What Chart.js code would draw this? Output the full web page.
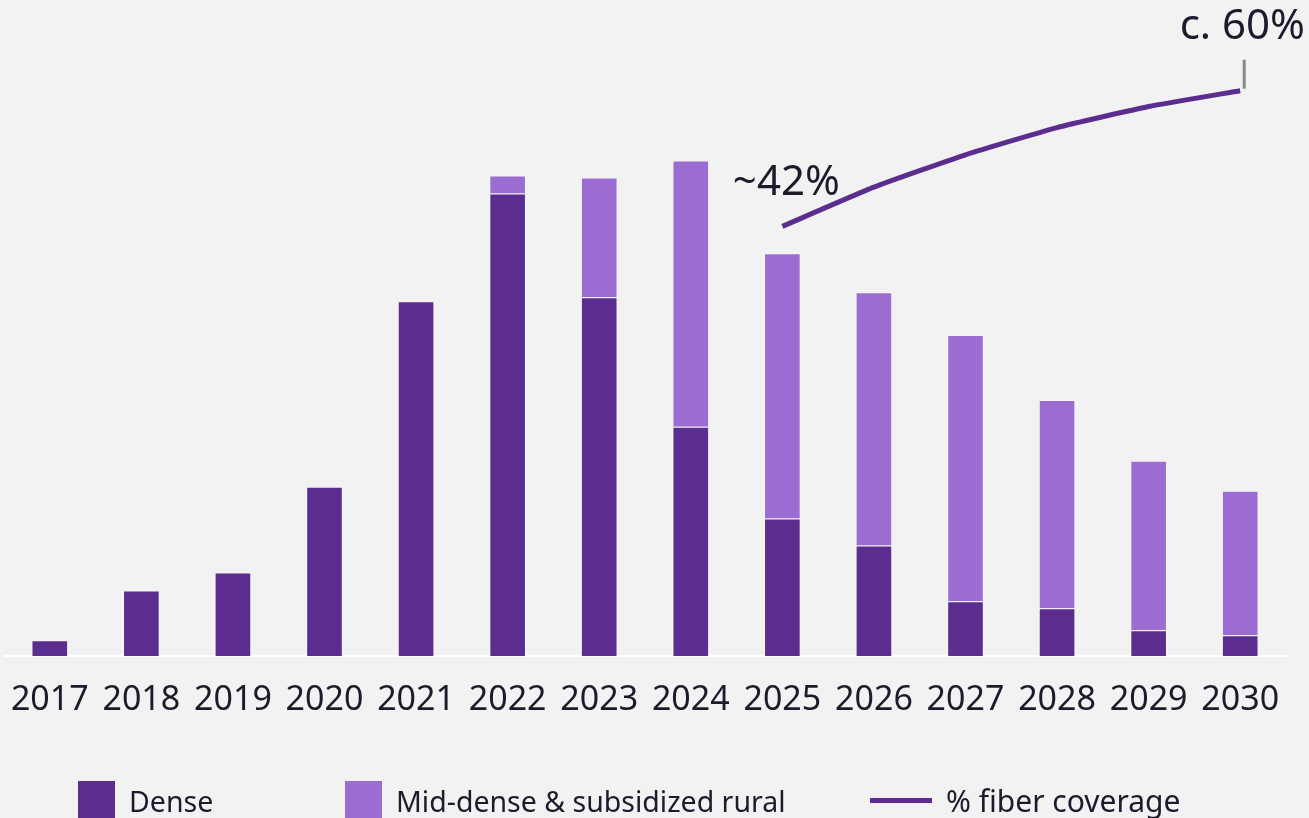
<!DOCTYPE html>
<html lang="en">
<head>
  <meta charset="UTF-8">
  <title>Fiber rollout</title>
  <script src="https://cdn.jsdelivr.net/npm/chart.js"></script>
  <style>
    html, body { margin: 0; padding: 0; background: #f2f2f2; overflow: hidden; }
    #wrap { position: relative; width: 1309px; height: 818px; }
    .legend { position: absolute; top: 781px; left: 0; width: 1309px; height: 40px;
      font-family: "Noto Sans", sans-serif; font-size: 28.5px; color: #1c1a2b; }
    .item { position: absolute; top: 0; display: flex; align-items: flex-start; }
    .box { width: 37px; height: 40px; margin-right: 14px; }
    .ln { width: 62px; height: 5px; margin: 17px 14px 0 0; }
    .item span { line-height: 40px; }
  </style>
</head>
<body>
<div id="wrap">
  <canvas id="fiberChart" width="1309" height="818"></canvas>
  <div class="legend">
    <div class="item" style="left:78px"><div class="box" style="background:#5b2d8e"></div><span>Dense</span></div>
    <div class="item" style="left:345px"><div class="box" style="background:#9b6dd2"></div><span>Mid-dense &amp; subsidized rural</span></div>
    <div class="item" style="left:870px"><div class="ln" style="background:#5b2d8e"></div><span style="font-size:30px">% fiber coverage</span></div>
  </div>
</div>
<script>
const years = ['2017','2018','2019','2020','2021','2022','2023','2024','2025','2026','2027','2028','2029','2030'];
const dense = [1.6, 6.6, 8.4, 17.0, 35.6, 46.4, 36.0, 23.0, 13.8, 11.1, 5.5, 4.8, 2.6, 2.1];
const midDense = [0, 0, 0, 0, 0, 1.8, 12.0, 26.7, 26.6, 25.4, 26.7, 20.9, 17.0, 14.5];
const coverage = [null, null, null, null, null, null, null, null, 42, 47.2, 51.5, 55.1, 57.9, 60];

const DARK = '#5b2d8e';
const LIGHT = '#9b6dd2';
const TEXT = '#1c1a2b';

// labels next to the coverage line
const notes = {
  id: 'notes',
  afterDatasetsDraw(chart) {
    const ctx = chart.ctx;
    const x = chart.scales.x, y1 = chart.scales.y1;
    ctx.save();
    ctx.fillStyle = TEXT;
    ctx.textBaseline = 'middle';
    ctx.textAlign = 'center';
    ctx.font = '42px "Noto Sans", sans-serif';
    ctx.fillText('~42%', x.getPixelForValue(8) + 4, y1.getPixelForValue(coverage[8]) - 43);
    const xe = x.getPixelForValue(13), ye = y1.getPixelForValue(coverage[13]);
    ctx.textAlign = 'right';
    ctx.font = '42px "Noto Sans", sans-serif';
    ctx.fillText('c. 60%', 1305, ye - 64);
    ctx.strokeStyle = '#8a8a8a';
    ctx.lineWidth = 3;
    ctx.beginPath();
    ctx.moveTo(xe + 4, ye - 31);
    ctx.lineTo(xe + 4, ye - 2);
    ctx.stroke();
    ctx.restore();
  }
};

new Chart(document.getElementById('fiberChart'), {
  data: {
    labels: years,
    datasets: [
      { type: 'line', label: '% fiber coverage', data: coverage, yAxisID: 'y1',
        borderColor: DARK, borderWidth: 5, pointRadius: 0, tension: 0.15, spanGaps: false, order: 0 },
      { type: 'bar', label: 'Dense', data: dense, backgroundColor: DARK,
        borderColor: 'rgba(255,255,255,0.25)', borderWidth: 1, order: 1 },
      { type: 'bar', label: 'Mid-dense & subsidized rural', data: midDense, backgroundColor: LIGHT,
        borderColor: 'rgba(255,255,255,0.35)', borderWidth: 1, order: 1 }
    ]
  },
  plugins: [notes],
  options: {
    responsive: false,
    animation: false,
    layout: { padding: { top: 0, left: 4, right: 23, bottom: 73 } },
    datasets: { bar: { categoryPercentage: 1, barPercentage: 0.4 } },
    plugins: { legend: { display: false }, tooltip: { enabled: false } },
    scales: {
      x: {
        stacked: true,
        grid: { display: false, drawTicks: false },
        border: { display: true, color: '#ffffff', width: 2 },
        ticks: { color: TEXT, padding: 24, maxRotation: 0,
          font: { family: '"Noto Sans", sans-serif', size: 34 } },
        afterFit(scale) { scale.paddingLeft = 0; scale.paddingRight = 0; }
      },
      y: { stacked: true, display: false, min: 0, max: 65.8 },
      y1: { display: false, min: -15.04, max: 72.04 }
    }
  }
});
</script>
</body>
</html>
